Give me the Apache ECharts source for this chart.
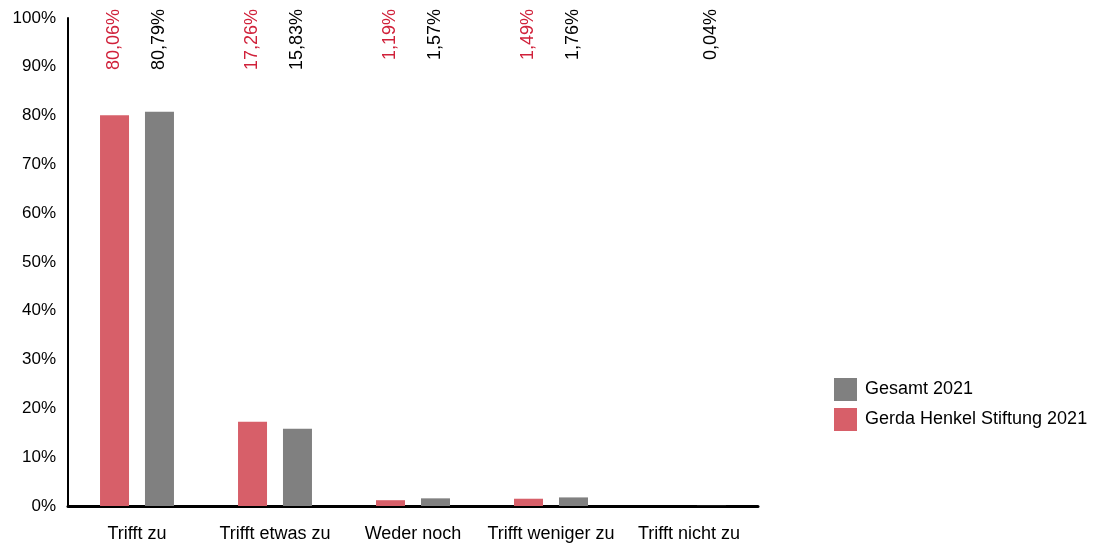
<!DOCTYPE html>
<html>
<head>
<meta charset="utf-8">
<script src="https://cdn.jsdelivr.net/npm/echarts@6/dist/echarts.min.js"></script>
<style>
html,body{margin:0;padding:0;background:#fff;}
#c{width:1106px;height:544px;}
</style>
</head>
<body>
<div id="c"></div>
<script>
var categories = ['Trifft zu', 'Trifft etwas zu', 'Weder noch', 'Trifft weniger zu', 'Trifft nicht zu'];
var seriesNames = ['Gerda Henkel Stiftung 2021', 'Gesamt 2021'];
var gerdaValues = [80.06, 17.26, 1.19, 1.49, 0];
var gesamtValues = [80.79, 15.83, 1.57, 1.76, 0.04];
var yTicks = [0, 10, 20, 30, 40, 50, 60, 70, 80, 90, 100];

var FONT = "'Liberation Sans', Arial, sans-serif";

function fmt(v) {
  if (!v) return '';
  return v.toFixed(2).replace('.', ',') + '%';
}

function topLayout(p) {
  return {
    x: p.rect.x + p.rect.width / 2,
    y: 9,
    align: 'right',
    verticalAlign: 'middle',
    rotate: 90
  };
}

var chart = echarts.init(document.getElementById('c'), null, {renderer: 'canvas'});
chart.setOption({
  animation: false,
  backgroundColor: '#ffffff',
  textStyle: {fontFamily: FONT},
  grid: {left: 68, top: 18, right: 348, bottom: 38, containLabel: false},
  legend: {
    orient: 'vertical',
    left: 834,
    top: 378,
    padding: 0,
    itemWidth: 23,
    itemHeight: 23,
    itemGap: 7,
    icon: 'rect',
    data: [seriesNames[1], seriesNames[0]],
    textStyle: {fontFamily: FONT, fontSize: 18, color: '#000', padding: [0, 0, 0, 3]}
  },
  xAxis: {
    type: 'category',
    data: categories,
    axisLine: {lineStyle: {color: '#000', width: 3}},
    axisTick: {show: false},
    axisLabel: {fontFamily: FONT, fontSize: 18, color: '#000', margin: 19, interval: 0}
  },
  yAxis: {
    type: 'value',
    min: yTicks[0],
    max: yTicks[yTicks.length - 1],
    interval: 10,
    axisLine: {show: true, lineStyle: {color: '#000', width: 2}},
    axisTick: {show: false},
    splitLine: {show: false},
    axisLabel: {fontFamily: FONT, fontSize: 17, color: '#000', margin: 12, formatter: '{value}%'}
  },
  series: [
    {
      name: seriesNames[0],
      type: 'bar',
      data: gerdaValues,
      barWidth: 29,
      barGap: '55%',
      itemStyle: {color: '#d75f69'},
      label: {
        show: true,
        position: 'top',
        rotate: 90,
        fontFamily: FONT,
        fontSize: 18,
        color: '#d0213a',
        formatter: function (p) { return fmt(p.value); }
      },
      labelLayout: topLayout
    },
    {
      name: seriesNames[1],
      type: 'bar',
      data: gesamtValues,
      barWidth: 29,
      barGap: '55%',
      itemStyle: {color: '#808080'},
      label: {
        show: true,
        position: 'top',
        rotate: 90,
        fontFamily: FONT,
        fontSize: 18,
        color: '#000',
        formatter: function (p) { return fmt(p.value); }
      },
      labelLayout: topLayout
    }
  ]
});
</script>
</body>
</html>
